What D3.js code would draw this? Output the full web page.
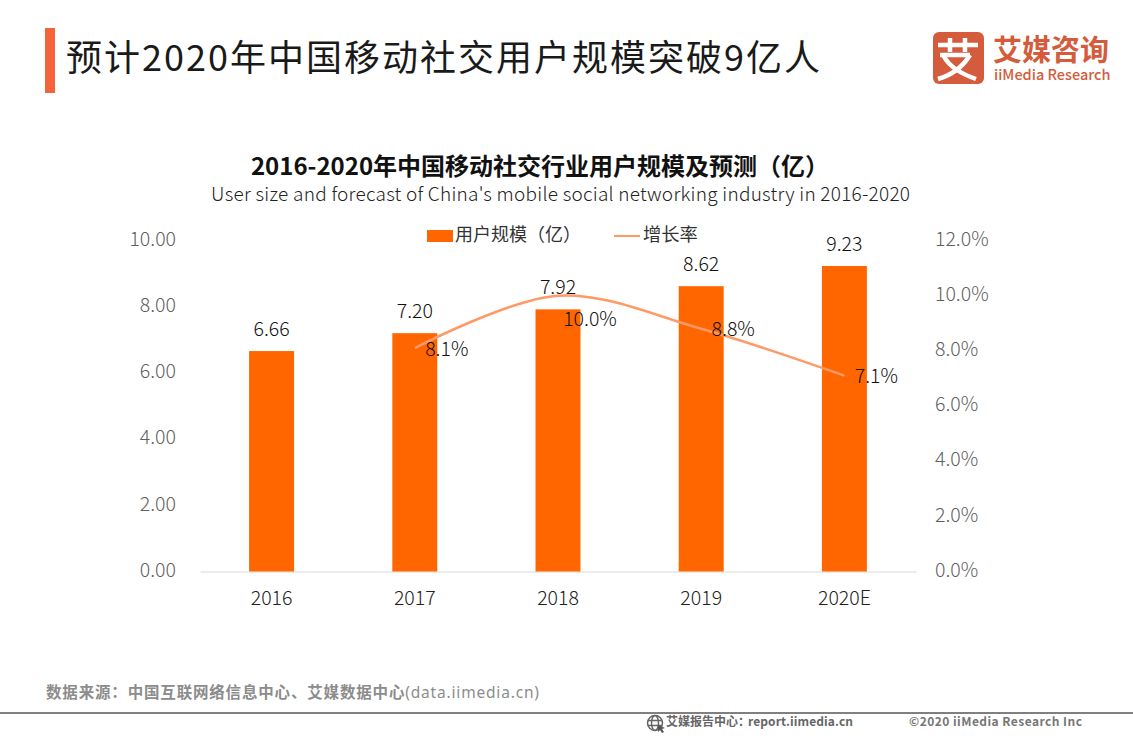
<!DOCTYPE html>
<html>
<head>
<meta charset="utf-8">
<script src="https://cdn.jsdelivr.net/npm/d3@7"></script>
<style>
  html, body { margin: 0; padding: 0; background: #fff; }
  svg { display: block; }
  text { font-family: "Noto Sans CJK SC", "Noto Sans", sans-serif; }
</style>
</head>
<body>
<svg id="chart" width="1133" height="736"></svg>
<script>
const years = ["2016", "2017", "2018", "2019", "2020E"];
const users = [6.66, 7.20, 7.92, 8.62, 9.23];
const growthYears = ["2017", "2018", "2019", "2020E"];
const growth = [8.1, 10.0, 8.8, 7.1];
const leftTicks = [0, 2, 4, 6, 8, 10];
const rightTicks = [0, 2, 4, 6, 8, 10, 12];

const svg = d3.select("#chart");
const top_ = 240.5, bottom = 571.5;

let x = d3.scaleBand().domain(years).range([200, 916]).paddingInner(0.686).paddingOuter(0.343);
let yLeft = d3.scaleLinear().domain([0, 10]).range([bottom, top_]);
let yRight = d3.scaleLinear().domain([0, 12]).range([bottom, top_]);
const cx = d => x(d) + x.bandwidth() / 2;

// header
svg.append("rect").attr("x", 45).attr("y", 28).attr("width", 10).attr("height", 65).attr("fill", "#f4633a");
svg.append("text").attr("x", 66).attr("y", 71).attr("font-size", 36).attr("fill", "#1a1a1a")
  .attr("textLength", 754).text("预计2020年中国移动社交用户规模突破9亿人");

// logo
const logo = svg.append("g");
logo.append("rect").attr("x", 933).attr("y", 32).attr("width", 51).attr("height", 52).attr("rx", 6).attr("fill", "#d45c3c");
const mark = logo.append("g").attr("fill", "none").attr("stroke", "#fff").attr("stroke-width", 4.5);
mark.append("path").attr("d", "M938 45H978M950 38V52M965 38V52M940 55H970");
mark.append("path").attr("d", "M970 55C962 68 952 75 938 79M943 55C950 68 962 74 976 79");
logo.append("text").attr("x", 993).attr("y", 61).attr("font-size", 29).attr("font-weight", 700)
  .attr("fill", "#d45c3c").text("艾媒咨询");
logo.append("text").attr("x", 994).attr("y", 80).attr("font-size", 14.5).attr("font-weight", 500)
  .attr("fill", "#d45c3c").text("iiMedia Research");

// chart titles
svg.append("text").attr("x", 540).attr("y", 175).attr("text-anchor", "middle").attr("font-size", 24)
  .attr("font-weight", 700).attr("fill", "#111").text("2016-2020年中国移动社交行业用户规模及预测（亿）");
svg.append("text").attr("x", 211).attr("y", 201).attr("font-size", 19)
  .attr("font-family", "Noto Sans").attr("font-weight", 300).attr("fill", "#222").attr("textLength", 699)
  .text("User size and forecast of China's mobile social  networking industry in 2016-2020");

// axes
const axisLeft = d3.axisLeft(yLeft).tickValues(leftTicks).tickFormat(d3.format(".2f")).tickSize(0).tickPadding(24);
const axisRight = d3.axisRight(yRight).tickValues(rightTicks).tickFormat(d => d.toFixed(1) + "%").tickSize(0).tickPadding(19);
const axisBottom = d3.axisBottom(x).tickSize(0).tickPadding(20);

const gl = svg.append("g").attr("transform", "translate(200,-1.5)").call(axisLeft);
const gr = svg.append("g").attr("transform", "translate(916,-1.5)").call(axisRight);
const gb = svg.append("g").attr("transform", "translate(0," + bottom + ")").call(axisBottom);
gl.select(".domain").remove();
gr.select(".domain").remove();
gb.select(".domain").attr("stroke", "#d9d9d9");
gl.selectAll("text").attr("font-size", 19.5).attr("font-weight", 300).attr("fill", "#5f5f5f").attr("font-family", "Noto Sans");
gr.selectAll("text").attr("font-size", 19.5).attr("font-weight", 300).attr("fill", "#5f5f5f").attr("font-family", "Noto Sans");
gb.selectAll("text").attr("font-size", 19.5).attr("font-weight", 300).attr("fill", "#222").attr("font-family", "Noto Sans");

// bars
svg.append("g").selectAll("rect").data(years).join("rect")
  .attr("x", d => x(d))
  .attr("y", (d, i) => yLeft(users[i]))
  .attr("width", x.bandwidth())
  .attr("height", (d, i) => bottom - yLeft(users[i]))
  .attr("fill", "#ff6600");

// growth line
const line = d3.line().x(d => cx(d[0])).y(d => yRight(d[1])).curve(d3.curveCatmullRom);
svg.append("path").datum(d3.zip(growthYears, growth)).attr("d", line)
  .attr("fill", "none").attr("stroke", "#ff9a66").attr("stroke-width", 2.5);

// data labels
svg.append("g").selectAll("text").data(years).join("text")
  .attr("x", d => cx(d))
  .attr("y", (d, i) => yLeft(users[i]) - 15)
  .attr("text-anchor", "middle").attr("font-size", 19.5).attr("font-weight", 300).attr("font-family", "Noto Sans").attr("fill", "#111")
  .text((d, i) => users[i].toFixed(2));

svg.append("g").selectAll("text").data(growthYears).join("text")
  .attr("x", d => cx(d) + 32)
  .attr("y", (d, i) => yRight(growth[i]) + (growth[i] === 10 ? 30.5 : 7.5))
  .attr("text-anchor", "middle").attr("font-size", 19.5).attr("font-weight", 300).attr("font-family", "Noto Sans").attr("fill", "#111")
  .text((d, i) => growth[i].toFixed(1) + "%");

// legend
svg.append("rect").attr("x", 427).attr("y", 230).attr("width", 26).attr("height", 12).attr("fill", "#ff6600");
svg.append("text").attr("x", 455).attr("y", 241).attr("font-size", 18).attr("fill", "#333").text("用户规模（亿）");
svg.append("line").attr("x1", 614).attr("x2", 640).attr("y1", 236).attr("y2", 236).attr("stroke", "#ff9a66").attr("stroke-width", 2);
svg.append("text").attr("x", 643).attr("y", 241).attr("font-size", 18.3).attr("fill", "#333").text("增长率");

// footer
const source = svg.append("text").attr("x", 46).attr("y", 698).attr("font-size", 15.5).attr("font-weight", 700).attr("fill", "#8c8c8c")
  .attr("textLength", 493);
source.append("tspan").text("数据来源：中国互联网络信息中心、艾媒数据中心");
source.append("tspan").attr("font-weight", 400).attr("font-family", "Noto Sans").text("(data.iimedia.cn)");
svg.append("rect").attr("x", 0).attr("y", 712).attr("width", 1133).attr("height", 2).attr("fill", "#808080");

const globe = svg.append("g").attr("fill", "none").attr("stroke", "#666").attr("stroke-width", 1.5);
globe.append("circle").attr("cx", 655).attr("cy", 723).attr("r", 7.5);
globe.append("ellipse").attr("cx", 655).attr("cy", 723).attr("rx", 3.5).attr("ry", 7.5);
globe.append("path").attr("d", "M648 720.5H662M648 725.5H662");
svg.append("path").attr("d", "M658 725l7 3-3 1 2 3-2 1-2-3-2 2z").attr("fill", "#555");

svg.append("text").attr("x", 666).attr("y", 726).attr("font-size", 12).attr("font-weight", 700).attr("fill", "#666")
  .text("艾媒报告中心：");
svg.append("text").attr("x", 748).attr("y", 726).attr("font-size", 12).attr("font-weight", 700).attr("fill", "#666")
  .attr("font-family", "DejaVu Sans").attr("textLength", 105).text("report.iimedia.cn");
svg.append("text").attr("x", 909).attr("y", 726).attr("font-size", 12).attr("font-weight", 700).attr("fill", "#777")
  .attr("font-family", "DejaVu Sans").attr("textLength", 173).text("©2020  iiMedia Research  Inc");
</script>
</body>
</html>
